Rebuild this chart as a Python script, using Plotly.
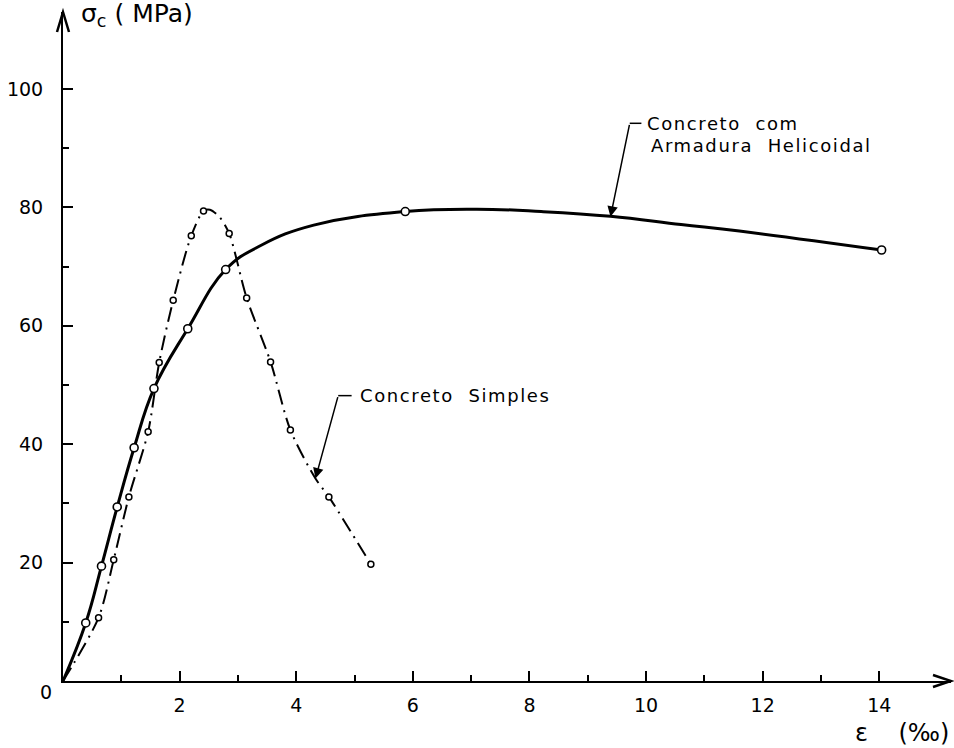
import plotly.graph_objects as go

# ---- data ----
# Concreto com Armadura Helicoidal (solid): measured points (circles)
hel_pts_x = [0.0, 0.39, 0.66, 0.93, 1.22, 1.56, 2.14, 2.79, 5.87, 14.04]
hel_pts_y = [0.0, 9.8, 19.4, 29.4, 39.4, 49.4, 59.5, 69.5, 79.3, 72.8]
# traced curve (solid)
hel_curve_x = [0.0, 0.39, 0.66, 0.93, 1.22, 1.56, 2.14, 2.79, 3.4, 4.3, 5.87, 7.1, 8.2, 9.39, 10.6, 11.6, 14.04]
hel_curve_y = [0.0, 9.8, 19.4, 29.4, 39.4, 49.4, 59.5, 69.5, 73.6, 77.0, 79.3, 79.7, 79.3, 78.5, 77.1, 76.0, 72.8]

# Concreto Simples (dash-dot): measured points (circles)
sim_pts_x = [0.0, 0.61, 0.87, 1.13, 1.46, 1.65, 1.89, 2.20, 2.41, 2.85, 3.15, 3.56, 3.90, 4.56, 5.28]
sim_pts_y = [0.0, 10.7, 20.5, 31.1, 42.1, 53.8, 64.3, 75.2, 79.4, 75.6, 64.7, 53.9, 42.4, 31.1, 19.7]
# traced curve (dash-dot)
sim_curve_x = [0.0, 0.61, 0.87, 1.13, 1.46, 1.65, 1.89, 2.20, 2.41, 2.52, 2.69, 2.85, 3.15, 3.56, 3.90, 4.33, 4.56, 5.28]
sim_curve_y = [0.0, 10.7, 20.5, 31.1, 42.1, 53.8, 64.3, 75.2, 79.4, 79.6, 78.3, 75.6, 64.7, 53.9, 42.4, 34.2, 31.1, 19.7]

x_major = [2, 4, 6, 8, 10, 12, 14]
x_minor = [1, 3, 5, 7, 9, 11, 13]
y_major = [20, 40, 60, 80, 100]
y_minor = [10, 30, 50, 70, 90]

X_MAX = 15.23
Y_MAX = 113.0
FONT = "DejaVu Sans"

fig = go.Figure()

fig.add_trace(go.Scatter(x=hel_curve_x, y=hel_curve_y, mode="lines",
                         line=dict(color="black", width=3, shape="spline", smoothing=1.2),
                         hoverinfo="skip", showlegend=False))
fig.add_trace(go.Scatter(x=sim_curve_x, y=sim_curve_y, mode="lines",
                         line=dict(color="black", width=2, shape="spline", smoothing=0.8,
                                   dash="15px,6px,2px,6px"),
                         hoverinfo="skip", showlegend=False))
fig.add_trace(go.Scatter(x=hel_pts_x[1:], y=hel_pts_y[1:], mode="markers",
                         marker=dict(symbol="circle", size=8, color="white",
                                     line=dict(color="black", width=1.6)),
                         showlegend=False))
fig.add_trace(go.Scatter(x=sim_pts_x[1:], y=sim_pts_y[1:], mode="markers",
                         marker=dict(symbol="circle", size=6, color="white",
                                     line=dict(color="black", width=1.5)),
                         showlegend=False))

# axis arrowheads (pixel-sized open V, paper-anchored so they are not clipped)
fig.add_shape(type="path", xref="paper", yref="paper", xsizemode="pixel", ysizemode="pixel",
              xanchor=1, yanchor=0, path="M -18,6 L 0,0 L -18,-6",
              line=dict(color="black", width=2.5))
fig.add_shape(type="path", xref="paper", yref="paper", xsizemode="pixel", ysizemode="pixel",
              xanchor=0, yanchor=1, path="M -6,-20 L 0,0 L 6,-20",
              line=dict(color="black", width=2.5))

# leader lines
fig.add_shape(type="line", xref="x", yref="y", x0=4.72, y0=48.2, x1=4.95, y1=48.2,
              line=dict(color="black", width=1.5))
fig.add_annotation(x=4.33, y=34.2, ax=4.72, ay=48.2, axref="x", ayref="y", text="",
                   showarrow=True, arrowhead=2, arrowsize=1.4, arrowwidth=1.5, standoff=0,
                   arrowcolor="black")
fig.add_shape(type="line", xref="x", yref="y", x0=9.72, y0=94.2, x1=9.92, y1=94.2,
              line=dict(color="black", width=1.5))
fig.add_annotation(x=9.39, y=78.4, ax=9.72, ay=94.2, axref="x", ayref="y", text="",
                   showarrow=True, arrowhead=2, arrowsize=1.4, arrowwidth=1.5, standoff=0,
                   arrowcolor="black")

LS = '<span style="letter-spacing:1.6px">%s</span>'
fig.add_annotation(x=5.06, y=48.2, text=LS % "Concreto\u00a0\u00a0Simples", showarrow=False,
                   xanchor="left", yanchor="middle", font=dict(family=FONT, size=18, color="black"))
fig.add_annotation(x=9.99, y=94.2, text=LS % "Concreto\u00a0\u00a0com", showarrow=False,
                   xanchor="left", yanchor="middle", font=dict(family=FONT, size=18, color="black"))
fig.add_annotation(x=10.05, y=90.5, text=LS % "Armadura\u00a0\u00a0Helicoidal", showarrow=False,
                   xanchor="left", yanchor="middle", font=dict(family=FONT, size=18, color="black"))

# axis titles and origin label
fig.add_annotation(xref="paper", yref="paper", x=0.018, y=1.0, yshift=-3,
                   text="\u03c3<sub>c</sub>\u00a0(\u00a0MPa)", showarrow=False, xanchor="left",
                   yanchor="middle", font=dict(family=FONT, size=25, color="black"))
fig.add_annotation(xref="paper", yref="paper", x=1.0, y=0, yshift=-52,
                   text="\u03b5\u00a0\u00a0\u00a0\u00a0(\u2030)", showarrow=False, xanchor="right",
                   yanchor="middle", font=dict(family=FONT, size=24, color="black"))
fig.add_annotation(xref="x", yref="y", x=0, y=0, xshift=-17, yshift=-11,
                   text="0", showarrow=False, xanchor="center", yanchor="middle",
                   font=dict(family=FONT, size=19, color="black"))

fig.update_xaxes(range=[0, X_MAX], showline=True, linecolor="black", linewidth=2,
                 showgrid=False, zeroline=False,
                 tickmode="array", tickvals=x_major, ticktext=[str(v) for v in x_major],
                 ticks="inside", ticklen=10, tickwidth=1.5, tickcolor="black",
                 minor=dict(tickmode="array", tickvals=x_minor, ticks="inside", ticklen=6,
                            tickwidth=1.5, tickcolor="black", showgrid=False),
                 tickfont=dict(family=FONT, size=19, color="black"), ticklabelstandoff=6)
fig.update_yaxes(range=[0, Y_MAX], showline=True, linecolor="black", linewidth=2,
                 showgrid=False, zeroline=False,
                 tickmode="array", tickvals=y_major, ticktext=[str(v) for v in y_major],
                 ticks="inside", ticklen=10, tickwidth=1.5, tickcolor="black",
                 minor=dict(tickmode="array", tickvals=y_minor, ticks="inside", ticklen=6,
                            tickwidth=1.5, tickcolor="black", showgrid=False),
                 tickfont=dict(family=FONT, size=19, color="black"), ticklabelstandoff=14)

fig.update_layout(width=954, height=748, margin=dict(l=63, r=3, t=12, b=67),
                  plot_bgcolor="white", paper_bgcolor="white", showlegend=False,
                  font=dict(family=FONT, color="black"))

fig.write_html("out.html")
